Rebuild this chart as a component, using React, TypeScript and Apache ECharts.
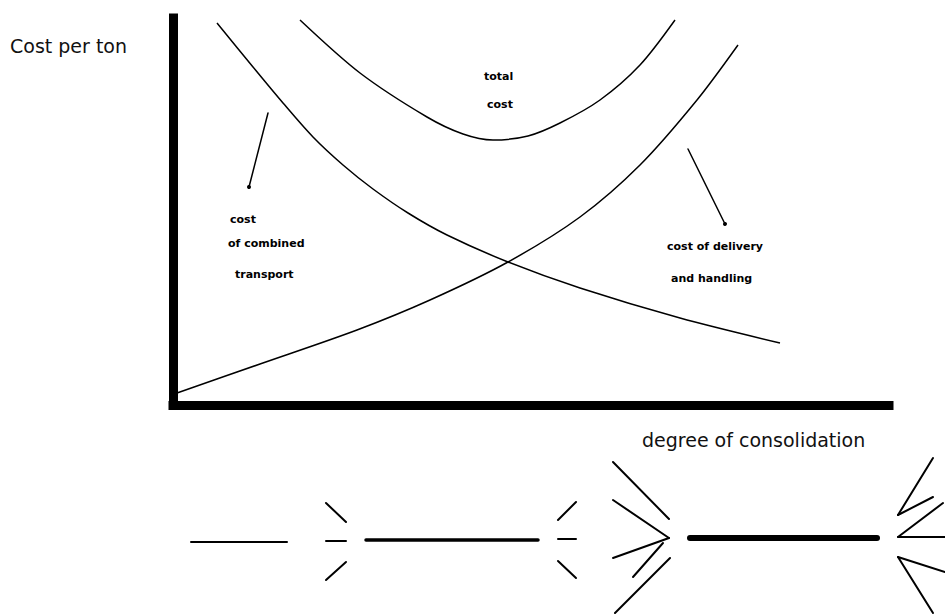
import React, { useEffect, useRef } from "react";
import * as echarts from "echarts";

// Main chart: x = px right of origin (173), y = px above the horizontal axis (405)
const transportCost: [number, number][] = [
  [4, 12], [87, 41], [184, 75], [257, 105], [335, 143], [407, 188], [467, 240], [524, 305], [565, 360],
];
const deliveryCost: [number, number][] = [
  [44, 382], [80, 338], [110, 302], [140, 268], [170, 240], [200, 216], [235, 192], [274, 170],
  [335, 143], [407, 117], [507, 87], [607, 62],
];
const totalCost: [number, number][] = [
  [127, 385], [187, 332], [254, 288], [290, 271], [320, 265], [355, 269], [387, 282], [427, 305], [467, 340], [502, 385],
];

// Page-pixel overlay (x right, y down)
const arrows: [number, number][][] = [
  [[268, 113], [249, 187]],
  [[688, 149], [725, 224]],
];
const thinRoute: [number, number][][] = [[[191, 542], [287, 542]]];
const mediumRoute: [number, number][][] = [[[366, 540], [538, 540]]];
const thickRoute: [number, number][][] = [[[690, 538], [877, 538]]];
const feederLines: [number, number][][] = [
  [[326, 503], [346, 522]], [[326, 541], [346, 541]], [[346, 562], [326, 580]],
  [[576, 502], [558, 520]], [[558, 539], [576, 539]], [[558, 561], [576, 578]],
  [[613, 462], [669, 519]], [[613, 500], [669, 538]], [[613, 558], [669, 538]],
  [[633, 577], [663, 543]], [[615, 613], [670, 558]],
  [[933, 458], [898, 515]], [[898, 515], [933, 497]], [[943, 503], [898, 537]],
  [[898, 537], [945, 537]], [[898, 557], [945, 572]], [[898, 557], [933, 613]],
];

const bigLabels = [
  { text: "Cost per ton", x: 10, y: 46 },
  { text: "degree of consolidation", x: 642, y: 440 },
];
const smallLabels = [
  { text: "total", x: 484, y: 76 },
  { text: "cost", x: 487, y: 104 },
  { text: "cost", x: 230, y: 219 },
  { text: "of combined", x: 228, y: 243 },
  { text: "transport", x: 235, y: 274 },
  { text: "cost of delivery", x: 667, y: 246 },
  { text: "and handling", x: 671, y: 278 },
];

export default function App() {
  const ref = useRef<HTMLDivElement>(null);
  useEffect(() => {
    document.body.style.margin = "0";
    const chart = echarts.init(ref.current!, undefined, { renderer: "svg" });
    const axisCommon = {
      type: "value" as const,
      axisTick: { show: false },
      axisLabel: { show: false },
      splitLine: { show: false },
    };
    const curve = (name: string, data: [number, number][]) => ({
      name,
      type: "line",
      xAxisIndex: 0,
      yAxisIndex: 0,
      data,
      smooth: 0.3,
      showSymbol: false,
      symbol: "none",
      lineStyle: { color: "#000", width: 1.5 },
    });
    const seg = (name: string, lines: [number, number][][], width: number, dot = false) => ({
      name,
      type: "lines",
      coordinateSystem: "cartesian2d",
      xAxisIndex: 1,
      yAxisIndex: 1,
      symbol: dot ? ["none", "circle"] : ["none", "none"],
      symbolSize: dot ? 4 : 0,
      lineStyle: { color: "#000", width, opacity: 1, cap: "round" },
      data: lines.map((c) => ({ coords: c })),
    });
    const graphics: any[] = [];
    bigLabels.forEach((l) =>
      graphics.push({
        type: "text",
        x: l.x,
        y: l.y,
        style: {
          text: l.text,
          font: "19px 'DejaVu Sans'",
          fill: "#111",
          textAlign: "left",
          textVerticalAlign: "middle",
          align: "left",
          verticalAlign: "middle",
        },
      })
    );
    smallLabels.forEach((l) =>
      graphics.push({
        type: "text",
        x: l.x,
        y: l.y,
        style: {
          text: l.text,
          font: "bold 11px 'DejaVu Sans'",
          fill: "#000",
          textAlign: "left",
          textVerticalAlign: "middle",
          align: "left",
          verticalAlign: "middle",
        },
      })
    );
    chart.setOption({
      animation: false,
      backgroundColor: "#fff",
      grid: [
        { left: 173, top: 18, width: 716, height: 387 },
        { left: 0, top: 0, right: 0, bottom: 0 },
      ],
      xAxis: [
        {
          ...axisCommon,
          gridIndex: 0,
          min: 0,
          max: 716,
          axisLine: { show: true, lineStyle: { color: "#000", width: 9, cap: "square" } },
        },
        { ...axisCommon, gridIndex: 1, min: 0, max: 945, show: false },
      ],
      yAxis: [
        {
          ...axisCommon,
          gridIndex: 0,
          min: 0,
          max: 387,
          axisLine: { show: true, lineStyle: { color: "#000", width: 9, cap: "square" } },
        },
        { ...axisCommon, gridIndex: 1, min: 0, max: 614, inverse: true, show: false },
      ],
      series: [
        curve("cost of combined transport", transportCost),
        curve("cost of delivery and handling", deliveryCost),
        curve("total cost", totalCost),
        seg("arrows", arrows, 1.5, true),
        seg("direct route", thinRoute, 2),
        seg("consolidated route", mediumRoute, 3.5),
        seg("highly consolidated route", thickRoute, 6),
        seg("feeders", feederLines, 2),
      ],
      graphic: graphics,
    });
    return () => chart.dispose();
  }, []);
  return (
    <div
      ref={ref}
      style={{ position: "fixed", left: 0, top: 0, width: 945, height: 614 }}
    />
  );
}
